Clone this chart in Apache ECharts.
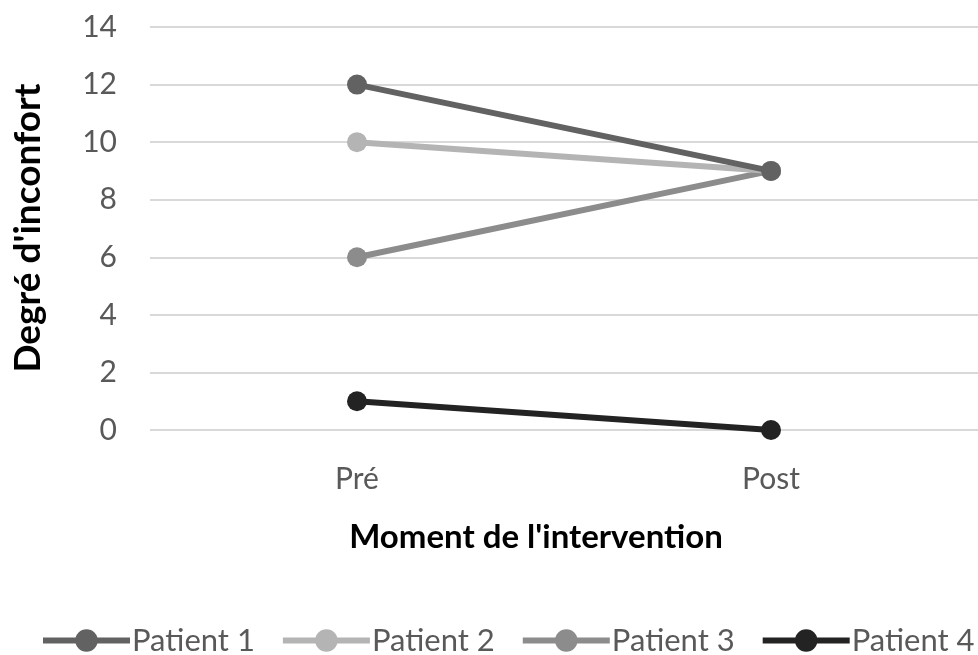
<!DOCTYPE html>
<html><head><meta charset="utf-8">
<script src="https://cdn.jsdelivr.net/npm/echarts@6/dist/echarts.min.js"></script>
<style>html,body{margin:0;padding:0;background:#fff}#c{width:978px;height:655px}</style>
</head><body><div id="c"></div>
<script>
var categories = ['Pré', 'Post'];
var patient1 = [12, 9];
var patient2 = [10, 9];
var patient3 = [6, 9];
var patient4 = [1, 0];
var seriesNames = ['Patient 1', 'Patient 2', 'Patient 3', 'Patient 4'];
var colors = ['#626262', '#b4b4b4', '#8c8c8c', '#232323'];
var yTicks = {min: 0, max: 14, interval: 2};
var FONT = 'Lato, "Open Sans", sans-serif';
var data = [patient1, patient2, patient3, patient4];
var chart = echarts.init(document.getElementById('c'));
chart.setOption({
  animation: false,
  textStyle: {fontFamily: FONT},
  grid: {left: 150, top: 27, width: 838, height: 403, containLabel: false},
  legend: {
    data: seriesNames, top: 625, left: 40, width: 1000, padding: 0, itemGap: 25, itemWidth: 87, itemHeight: 28,
    lineStyle: {width: 6},
    textStyle: {fontSize: 31, color: '#595959', fontFamily: FONT, padding: [0,0,0,-3]}
  },
  xAxis: {
    type: 'category', data: categories, boundaryGap: true,
    axisLine: {show: false}, axisTick: {show: false},
    axisLabel: {fontSize: 30, color: '#595959', margin: 34}
  },
  yAxis: {
    type: 'value', min: yTicks.min, max: yTicks.max, interval: yTicks.interval,
    axisLine: {show: false}, axisTick: {show: false},
    axisLabel: {fontSize: 30, color: '#595959', margin: 33},
    splitLine: {lineStyle: {color: '#d9d9d9', width: 2}}
  },
  graphic: [
    {type: 'text', x: 536, y: 537, style: {text: "Moment de l'intervention", fontSize: 33, fontWeight: 'bold', fill: '#000', fontFamily: FONT, align: 'center', verticalAlign: 'middle'}},
    {type: 'text', x: 28, y: 228, rotation: Math.PI / 2, style: {text: "Degré d'inconfort", fontSize: 37, fontWeight: 'bold', fill: '#000', fontFamily: FONT, align: 'center', verticalAlign: 'middle'}}
  ],
  series: seriesNames.map(function (n, i) {
    return {
      name: n, type: 'line', data: data[i], symbol: 'circle', symbolSize: 20,
      lineStyle: {width: 6, color: colors[i]}, itemStyle: {color: colors[i]}, z: 10 - i
    };
  })
});
</script></body></html>
